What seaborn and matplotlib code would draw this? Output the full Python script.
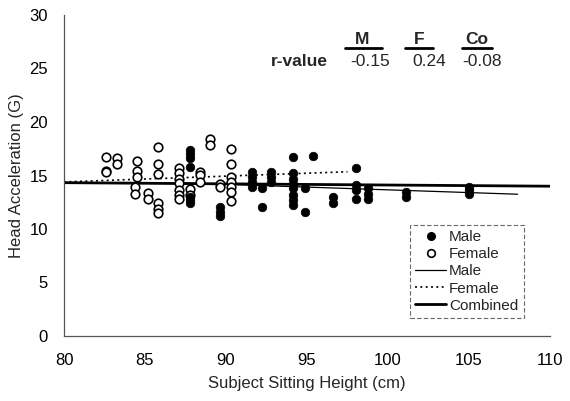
import matplotlib
matplotlib.use("Agg")
import matplotlib.pyplot as plt
from matplotlib.lines import Line2D
from matplotlib.ticker import MultipleLocator
import seaborn as sns
import pandas as pd

# ---- data ----
female_x = [82.6, 82.6, 82.6, 83.3, 83.3,
            84.5, 84.5, 84.5, 84.4, 84.4,
            85.2, 85.2,
            85.8, 85.8, 85.8, 85.8, 85.8, 85.8,
            87.1, 87.1, 87.1, 87.1, 87.1, 87.1, 87.1,
            87.8, 87.8,
            88.4, 88.4, 88.4,
            89.0, 89.0,
            89.6, 89.6,
            90.3, 90.3, 90.3, 90.3, 90.3, 90.3, 90.3]
female_y = [16.7, 15.45, 15.3, 16.6, 16.1,
            16.4, 15.45, 14.9, 13.95, 13.3,
            13.4, 12.85,
            17.7, 16.1, 15.1, 12.4, 11.9, 11.5,
            15.7, 15.2, 14.7, 14.3, 13.6, 13.15, 12.8,
            13.7, 13.2,
            15.35, 15.05, 14.4,
            18.4, 17.85,
            14.25, 13.9,
            17.5, 16.1, 14.85, 14.4, 13.95, 13.5, 12.65]

male_x = [87.8, 87.8, 87.8, 87.8, 87.8, 87.8, 87.8,
          89.6, 89.6, 89.6,
          91.6, 91.6, 91.6, 91.6,
          92.2, 92.2,
          92.8, 92.8, 92.8,
          94.15, 94.15, 94.15, 94.15, 94.15, 94.15, 94.15, 94.15,
          94.9, 94.9,
          95.4,
          96.6, 96.6,
          98.0, 98.0, 98.0, 98.0,
          98.75, 98.75, 98.75,
          101.1, 101.1,
          105.0, 105.0, 105.0]
male_y = [17.4, 17.0, 16.6, 15.8, 13.0, 12.7, 12.4,
          12.1, 11.6, 11.2,
          15.35, 14.9, 14.4, 13.95,
          13.8, 12.1,
          15.35, 14.9, 14.4,
          16.75, 15.2, 14.7, 14.25, 13.8, 13.2, 12.7, 12.25,
          13.8, 11.6,
          16.8,
          13.0, 12.4,
          15.7, 14.1, 13.65, 12.8,
          13.8, 13.3, 12.85,
          13.5, 13.0,
          13.95, 13.65, 13.3]

# trend lines (end points)
male_fit_x = [87.5, 108.0]
male_fit_y = [14.3, 13.25]
female_fit_x = [80.0, 97.5]
female_fit_y = [14.4, 15.35]
comb_fit_x = [80.0, 110.0]
comb_fit_y = [14.33, 14.0]

r_headers = ["M", "F", "Co"]
r_values = ["-0.15", "0.24", "-0.08"]

x_ticks = [80, 85, 90, 95, 100, 105, 110]
y_ticks = [0, 5, 10, 15, 20, 25, 30]

# ---- plotting ----
sns.set_style("white")
plt.rcParams['font.family'] = ['Liberation Sans', 'DejaVu Sans']

fig = plt.figure(figsize=(5.70, 4.01), dpi=100)
ax = fig.add_axes([64/570, 1-336/401, (550-64)/570, (336-15)/401])

df_f = pd.DataFrame({"x": female_x, "y": female_y})
df_m = pd.DataFrame({"x": male_x, "y": male_y})

sns.lineplot(x=comb_fit_x, y=comb_fit_y, ax=ax, color="black", lw=2.0, zorder=2)
sns.lineplot(x=male_fit_x, y=male_fit_y, ax=ax, color="black", lw=0.9, zorder=2)
sns.lineplot(x=female_fit_x, y=female_fit_y, ax=ax, color="black", lw=1.2,
             linestyle=(0, (1.2, 2.0)), zorder=2)
sns.scatterplot(data=df_f, x="x", y="y", ax=ax, marker="o", s=38,
                facecolor="white", edgecolor="black", linewidth=1.2, zorder=3)
sns.scatterplot(data=df_m, x="x", y="y", ax=ax, marker="o", s=38,
                color="black", edgecolor="black", linewidth=0.5, zorder=4)

ax.set_xlim(80, 110)
ax.set_ylim(0, 30)
ax.set_xticks(x_ticks)
ax.set_yticks(y_ticks)
ax.xaxis.set_minor_locator(MultipleLocator(0.5))
ax.yaxis.set_minor_locator(MultipleLocator(1))
ax.tick_params(axis="both", which="major", direction="in", length=4, width=0.8,
               labelsize=12, colors="black")
ax.tick_params(axis="both", which="minor", direction="in", length=2, width=0.5,
               color="#777777")
ax.tick_params(axis="x", which="major", pad=12)
ax.tick_params(axis="y", which="major", pad=11.5)
for sp in ["top", "right"]:
    ax.spines[sp].set_visible(False)
for sp in ["left", "bottom"]:
    ax.spines[sp].set_color("#555555")
    ax.spines[sp].set_linewidth(0.9)

ax.set_xlabel("Subject Sitting Height (cm)", fontsize=12, labelpad=6)
ax.set_ylabel("Head Acceleration (G)", fontsize=12, labelpad=4)

# r-value table
ax.text(80 + (328-64)/16.2, 30 - (61-15)/10.7, "r-value", ha="right", va="center",
        fontsize=12.5, fontweight="bold")
hx = [361.7, 419.3, 476.7]
vx = [370, 429, 481.7]
ul = [(345, 382), (405, 433), (462, 492)]
for h, v, x1, x2, (a, b) in zip(r_headers, r_values, hx, vx, ul):
    ax.text(80 + (x1-64)/16.2, 30 - (40-15)/10.7, h, ha="center", va="center",
            fontsize=12.5, fontweight="bold")
    ax.text(80 + (x2-64)/16.2, 30 - (61-15)/10.7, v, ha="center", va="center",
            fontsize=12.5)
    ax.plot([80 + (a-64)/16.2, 80 + (b-64)/16.2], [30 - (47.5-15)/10.7]*2,
            color="black", lw=2)

handles = [
    Line2D([], [], marker="o", color="none", markerfacecolor="black",
           markeredgecolor="black", markersize=5.5, label="Male"),
    Line2D([], [], marker="o", color="none", markerfacecolor="white",
           markeredgecolor="black", markersize=5.5, markeredgewidth=1.2, label="Female"),
    Line2D([], [], color="black", lw=0.9, label="Male"),
    Line2D([], [], color="black", lw=1.2, linestyle=(0, (1.2, 2.0)), label="Female"),
    Line2D([], [], color="black", lw=2.0, label="Combined"),
]
leg = ax.legend(handles=handles, loc="upper left",
                bbox_to_anchor=((410-64)/486, 1-(225-15)/321),
                fontsize=11, frameon=True, fancybox=False, handlelength=2.0,
                handletextpad=0.2, labelspacing=0.2, borderpad=0.35,
                borderaxespad=0)
frame = leg.get_frame()
frame.set_edgecolor("#444444")
frame.set_linestyle((0, (4, 2)))
frame.set_linewidth(0.8)

fig.savefig("out.png", dpi=100)
